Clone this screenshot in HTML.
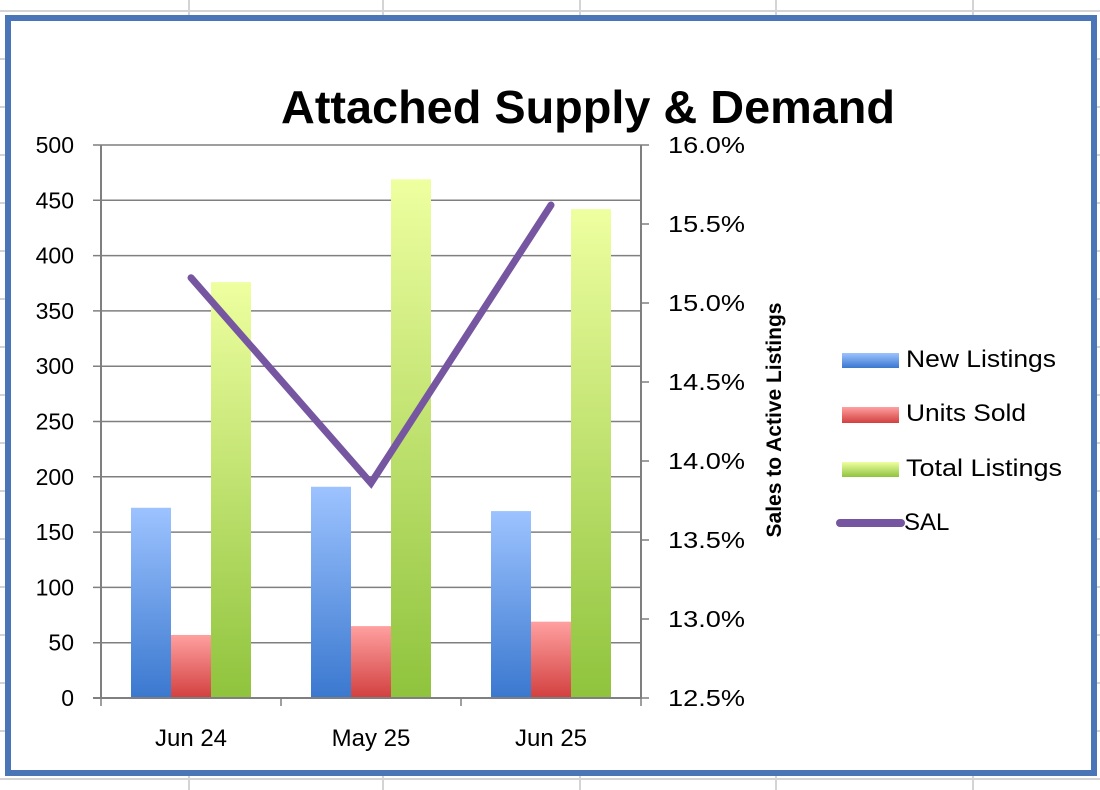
<!DOCTYPE html>
<html><head><meta charset="utf-8"><style>
html,body{margin:0;padding:0;background:#fff;}
svg{display:block;font-family:"Liberation Sans",Calibri,sans-serif;}
</style></head><body>
<svg width="1100" height="790" viewBox="0 0 1100 790" xmlns="http://www.w3.org/2000/svg">
<defs>
<linearGradient id="gB" x1="0" y1="0" x2="0" y2="1"><stop offset="0" stop-color="#9dc3ff"/><stop offset="1" stop-color="#3a78cf"/></linearGradient>
<linearGradient id="gR" x1="0" y1="0" x2="0" y2="1"><stop offset="0" stop-color="#ffa0a0"/><stop offset="1" stop-color="#d2403f"/></linearGradient>
<linearGradient id="gG" x1="0" y1="0" x2="0" y2="1"><stop offset="0" stop-color="#eeffa0"/><stop offset="1" stop-color="#8fc33d"/></linearGradient>
</defs>
<g id="sheet"></g>
<rect x="8" y="18" width="1086" height="755" fill="#fff" stroke="#4a76b8" stroke-width="6"/>
<text x="588" y="123" text-anchor="middle" font-size="46" font-weight="bold" fill="#000" textLength="614" lengthAdjust="spacingAndGlyphs">Attached Supply &amp; Demand</text>
<g id="grid"></g>
<g id="bars"></g>
<g id="axes"></g>
<g id="line"></g>
<text transform="translate(781,420) rotate(-90)" text-anchor="middle" font-size="21" font-weight="bold">Sales to Active Listings</text>
<g font-size="24">
<rect x="842" y="353" width="57" height="15" fill="url(#gB)"/>
<text x="906" y="367" textLength="150" lengthAdjust="spacingAndGlyphs">New Listings</text>
<rect x="842" y="407" width="57" height="16" fill="url(#gR)"/>
<text x="906" y="421" textLength="120" lengthAdjust="spacingAndGlyphs">Units Sold</text>
<rect x="842" y="462" width="57" height="15" fill="url(#gG)"/>
<text x="906" y="476" textLength="156" lengthAdjust="spacingAndGlyphs">Total Listings</text>
<line x1="840" y1="523" x2="901" y2="523" stroke="#7656a0" stroke-width="8" stroke-linecap="round"/>
<text x="904" y="530">SAL</text>
</g>
</svg>
<script>
const categories=["Jun 24","May 25","Jun 25"];
const newListings=[172,191,169];
const unitsSold=[57,65,69];
const totalListings=[376,469,442];
const sal=[15.16,13.86,15.62];
const leftTicks=[0,50,100,150,200,250,300,350,400,450,500];
const rightTicks=[12.5,13.0,13.5,14.0,14.5,15.0,15.5,16.0];

const NS="http://www.w3.org/2000/svg";
const X0=101,X1=641,Y0=698,Y1=145;
const catW=(X1-X0)/categories.length;
function yL(v){return Y0-(v-0)/(500-0)*(Y0-Y1);}
function yR(v){return Y0-(v-12.5)/(16-12.5)*(Y0-Y1);}
function xC(i){return X0+catW*(i+0.5);}
function mk(tag,attrs,parent){const e=document.createElementNS(NS,tag);for(const k in attrs)e.setAttribute(k,attrs[k]);parent.appendChild(e);return e;}

const sheet=document.getElementById('sheet');
for(let y=11;y<790;y+=48){const l=mk('line',{x1:0,x2:1100,y1:y,y2:y,stroke:'#d4d4d4','stroke-width':2},sheet);

}
[189,383,580,776,973].forEach(x=>{const l=mk('line',{x1:x,x2:x,y1:0,y2:790,stroke:'#d4d4d4','stroke-width':2},sheet);

});

const grid=document.getElementById('grid');
leftTicks.forEach(v=>{if(v===0)return;const l=mk('line',{x1:X0-8,x2:X1,y1:yL(v),y2:yL(v),stroke:'#7f7f7f','stroke-width':1.5},grid);

});

const bars=document.getElementById('bars');
const bw=40;
categories.forEach((c,i)=>{
  const left=X0+catW*i+30;
  const b1=mk('rect',{x:left,y:yL(newListings[i]),width:bw,height:Y0-yL(newListings[i]),fill:'url(#gB)'},bars);
  
  
  const b2=mk('rect',{x:left+bw,y:yL(unitsSold[i]),width:bw,height:Y0-yL(unitsSold[i]),fill:'url(#gR)'},bars);
  
  
  const b3=mk('rect',{x:left+2*bw,y:yL(totalListings[i]),width:bw,height:Y0-yL(totalListings[i]),fill:'url(#gG)'},bars);
  
  
});

const axes=document.getElementById('axes');
const ax=[[X0,Y1,X0,Y0],[X1,Y1,X1,Y0],[X0-8,Y0,X1,Y0]];
ax.forEach(a=>{const l=mk('line',{x1:a[0],y1:a[1],x2:a[2],y2:a[3],stroke:'#7f7f7f','stroke-width':2},axes);

});
leftTicks.forEach(v=>{const t=mk('text',{x:74,y:yL(v)+8,'text-anchor':'end','font-size':23},axes);t.textContent=v;

});
rightTicks.forEach(v=>{const tk=mk('line',{x1:X1,x2:X1+8,y1:yR(v),y2:yR(v),stroke:'#7f7f7f','stroke-width':1.5},axes);


const t=mk('text',{x:668,y:yR(v)+8,'font-size':23,textLength:77,lengthAdjust:'spacingAndGlyphs'},axes);t.textContent=v.toFixed(1)+'%';

});
for(let i=0;i<=categories.length;i++){const tk=mk('line',{x1:X0+catW*i,x2:X0+catW*i,y1:Y0,y2:Y0+8,stroke:'#7f7f7f','stroke-width':1.5},axes);

}
categories.forEach((c,i)=>{const t=mk('text',{x:xC(i),y:746,'text-anchor':'middle','font-size':24},axes);t.textContent=c;

});

const lg=document.getElementById('line');
const pl=mk('polyline',{points:sal.map((v,i)=>xC(i)+','+yR(v)).join(' '),fill:'none',stroke:'#7656a0','stroke-width':7,'stroke-linecap':'round','stroke-linejoin':'miter'},lg);


</script>
</body></html>
